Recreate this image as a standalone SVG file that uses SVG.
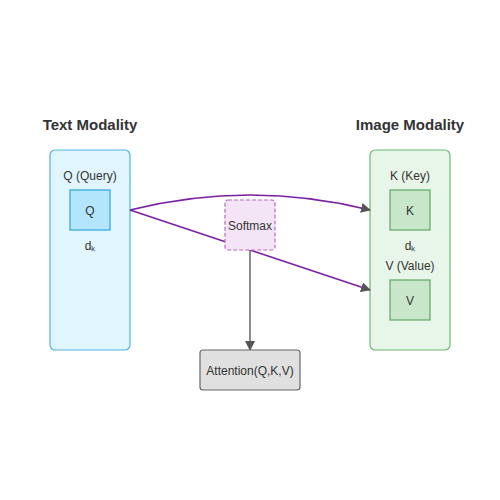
<svg xmlns="http://www.w3.org/2000/svg" width="500" height="500" viewBox="0 0 500 500">
<defs>
<marker id="arr" viewBox="0 0 10 10" refX="9" refY="5" markerWidth="10" markerHeight="10" markerUnits="userSpaceOnUse" orient="auto">
<path d="M0,0 L10,5 L0,10 Z" fill="#555"/>
</marker>
<style>
text{font-family:"Liberation Sans",Arial,sans-serif;fill:#333;text-anchor:middle}
.title{font-size:15px;font-weight:bold}
.lbl{font-size:12px}
.flow{fill:none;stroke:#7b1fa2;stroke-width:1.5}
.down{fill:none;stroke:#666;stroke-width:1.5}
</style>
</defs>
<rect width="500" height="500" fill="#fff"/>
<text class="title" x="90" y="130">Text Modality</text>
<text class="title" x="410" y="130">Image Modality</text>
<g id="text-modality">
<rect x="50" y="150" width="80" height="200" rx="5" fill="#e1f5fe" stroke="#4fb3e8" stroke-width="1.2"/>
<text class="lbl" x="90" y="180">Q (Query)</text>
</g>
<g id="q">
<rect x="70" y="190" width="40" height="40" fill="#b3e5fc" stroke="#29a3e0" stroke-width="1.2"/>
<text class="lbl" x="90" y="215">Q</text>
<text class="lbl" x="90" y="250">dₖ</text>
</g>
<g id="image-modality">
<rect x="370" y="150" width="80" height="200" rx="5" fill="#e8f5e9" stroke="#6fb872" stroke-width="1.2"/>
<text class="lbl" x="410" y="180">K (Key)</text>
<text class="lbl" x="410" y="250">dₖ</text>
<text class="lbl" x="410" y="270">V (Value)</text>
</g>
<g id="k">
<rect x="390" y="190" width="40" height="40" fill="#c8e6c9" stroke="#5fa863" stroke-width="1.2"/>
<text class="lbl" x="410" y="215">K</text>
</g>
<g id="v">
<rect x="390" y="280" width="40" height="40" fill="#c8e6c9" stroke="#5fa863" stroke-width="1.2"/>
<text class="lbl" x="410" y="305">V</text>
</g>
<g id="connectors">
<path class="flow" d="M130,210 Q250,180 370,210" marker-end="url(#arr)"/>
<path class="flow" d="M130,210 L370,290" marker-end="url(#arr)"/>
<path class="down" d="M250,250 L250,350" marker-end="url(#arr)"/>
</g>
<g id="softmax">
<rect x="225" y="200" width="50" height="50" rx="3" fill="#f3e5f5" stroke="#ba68c8" stroke-width="1.2" stroke-dasharray="4,2"/>
<text class="lbl" x="250" y="230">Softmax</text>
</g>
<g id="attention">
<rect x="200" y="350" width="100" height="40" rx="3" fill="#e0e0e0" stroke="#666" stroke-width="1.2"/>
<text class="lbl" x="250" y="375">Attention(Q,K,V)</text>
</g>
</svg>
